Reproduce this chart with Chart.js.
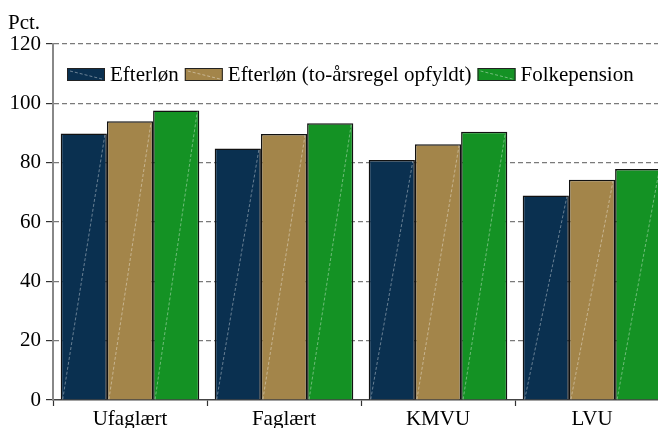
<!DOCTYPE html>
<html>
<head>
<meta charset="utf-8">
<script src="https://cdn.jsdelivr.net/npm/chart.js@4/dist/chart.umd.min.js"></script>
<style>
  html, body { margin: 0; padding: 0; background: #fff; overflow: hidden; }
  canvas { display: block; }
</style>
</head>
<body>
<canvas id="c" width="658" height="428"></canvas>
<script>
// Education groups
const categories = ['Ufaglært', 'Faglært', 'KMVU', 'LVU'];

// Shares in percent
const efterlon      = [89.8, 84.8, 80.9, 68.9];
const efterlonToAar = [94.0, 89.7, 86.2, 74.2];
const folkepension  = [97.6, 93.3, 90.4, 77.9];

const seriesNames  = ['Efterløn', 'Efterløn (to-årsregel opfyldt)', 'Folkepension'];
const seriesColors = ['#0a3050', '#a3854a', '#149224'];

const yTicks = [0, 20, 40, 60, 80, 100, 120];

const FONT = '"Liberation Serif", "Times New Roman", serif';
const FONT_SIZE = 21;

// The plot area runs on a little past the right edge of the canvas
const overhang = {
  id: 'overhang',
  afterLayout(chart) {
    const ext = 11;
    chart.chartArea.right += ext;
    chart.chartArea.width += ext;
    const xs = chart.scales.x;
    xs.right += ext;
    xs.width += ext;
    xs.configure();
  }
};

// Faint light diagonal streak across every bar
const barStreaks = {
  id: 'barStreaks',
  afterDatasetsDraw(chart) {
    const ctx = chart.ctx;
    const a = chart.chartArea;
    ctx.save();
    ctx.beginPath();
    ctx.rect(a.left, a.top, a.right - a.left, a.bottom - a.top);
    ctx.clip();
    ctx.beginPath();
    chart.data.datasets.forEach((ds, i) => {
      chart.getDatasetMeta(i).data.forEach(bar => {
        const p = bar.getProps(['x', 'y', 'base', 'width'], true);
        ctx.moveTo(p.x - p.width / 2 + 2, p.base);
        ctx.lineTo(p.x + p.width / 2 - 2, p.y + 1);
      });
    });
    ctx.setLineDash([3, 2]);
    ctx.strokeStyle = 'rgba(255,255,255,0.38)';
    ctx.lineWidth = 1;
    ctx.stroke();
    ctx.restore();
  }
};

// Unit label and legend drawn inside the plot
const overlay = {
  id: 'overlay',
  afterDraw(chart) {
    const ctx = chart.ctx;
    ctx.save();
    ctx.font = FONT_SIZE + 'px ' + FONT;
    ctx.fillStyle = '#000';
    ctx.textBaseline = 'alphabetic';
    ctx.textAlign = 'left';
    ctx.fillText('Pct.', 8, 29);

    let x = chart.chartArea.left + 14;
    const boxTop = 68, boxW = 38, boxH = 13;
    chart.data.datasets.forEach((ds, i) => {
      ctx.fillStyle = ds.backgroundColor;
      ctx.fillRect(x, boxTop, boxW, boxH);
      ctx.lineWidth = 1;
      ctx.strokeStyle = '#222';
      ctx.strokeRect(x + 0.5, boxTop + 0.5, boxW - 1, boxH - 1);
      ctx.save();
      ctx.setLineDash([3, 2]);
      ctx.strokeStyle = 'rgba(255,255,255,0.4)';
      ctx.beginPath();
      ctx.moveTo(x + 3, boxTop + 3);
      ctx.lineTo(x + boxW - 3, boxTop + boxH - 2);
      ctx.stroke();
      ctx.restore();
      x += boxW + 5;
      ctx.fillStyle = '#000';
      ctx.fillText(ds.label, x, 81);
      x += ctx.measureText(ds.label).width + 6;
    });
    ctx.restore();
  }
};

new Chart(document.getElementById('c'), {
  type: 'bar',
  data: {
    labels: categories,
    datasets: [
      { label: seriesNames[0], data: efterlon,      backgroundColor: seriesColors[0] },
      { label: seriesNames[1], data: efterlonToAar, backgroundColor: seriesColors[1] },
      { label: seriesNames[2], data: folkepension,  backgroundColor: seriesColors[2] }
    ].map(d => Object.assign(d, {
      borderColor: '#111',
      borderWidth: 1.5,
      categoryPercentage: 0.9,
      barPercentage: 1.0
    }))
  },
  options: {
    responsive: false,
    animation: false,
    devicePixelRatio: 1,
    layout: { padding: { top: 44, right: 0, bottom: 0, left: 0 } },
    plugins: {
      legend: { display: false },
      tooltip: { enabled: false },
      title: { display: false }
    },
    scales: {
      x: {
        offset: true,
        afterFit: s => { s.height = 28; },
        grid: {
          drawOnChartArea: false,
          drawTicks: true,
          tickLength: 6,
          tickColor: '#333',
          tickWidth: 1.2,
          offset: true
        },
        border: { display: true, color: '#444', width: 1.5 },
        ticks: {
          padding: 1,
          color: '#000',
          font: { family: FONT, size: FONT_SIZE }
        }
      },
      y: {
        min: 0,
        max: 120,
        afterFit: s => { s.width = 53; },
        afterBuildTicks: s => { s.ticks = yTicks.map(v => ({ value: v })); },
        grid: {
          color: ctx => (ctx.tick && ctx.tick.value === 0) ? 'rgba(0,0,0,0)' : '#7a7a7a',
          lineWidth: 1.2,
          tickLength: 7,
          tickColor: '#333',
          tickWidth: 1.2,
          tickBorderDash: []
        },
        border: { display: true, color: '#888', width: 2, dash: [5, 3] },
        ticks: {
          padding: 5,
          color: '#000',
          font: { family: FONT, size: FONT_SIZE }
        }
      }
    }
  },
  plugins: [overhang, barStreaks, overlay]
});
</script>
</body>
</html>
